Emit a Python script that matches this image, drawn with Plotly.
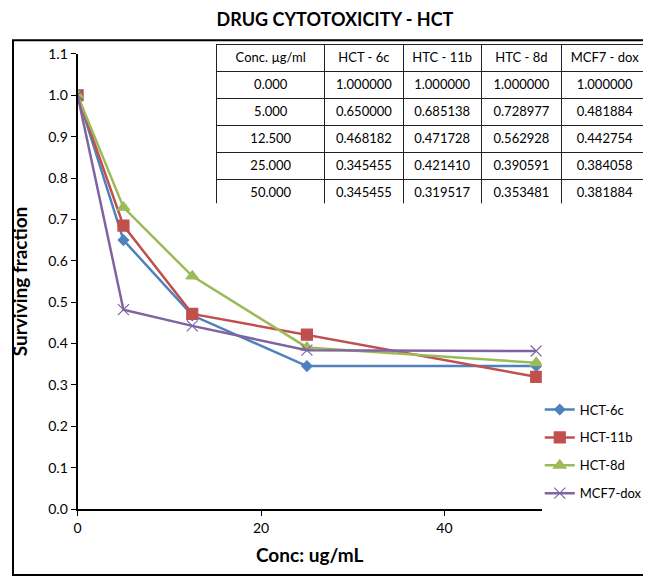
import plotly.graph_objects as go

# concentration (ug/mL) and surviving fraction per compound
conc = [0, 5, 12.5, 25, 50]
hct_6c = [1.000000, 0.650000, 0.468182, 0.345455, 0.345455]
hct_11b = [1.000000, 0.685138, 0.471728, 0.421410, 0.319517]
hct_8d = [1.000000, 0.728977, 0.562928, 0.390591, 0.353481]
mcf7_dox = [1.000000, 0.481884, 0.442754, 0.384058, 0.381884]

series_names = ["HCT-6c", "HCT-11b", "HCT-8d", "MCF7-dox"]
table_header = ["Conc. \u00b5g/ml", "HCT - 6c", "HTC - 11b", "HTC - 8d", "MCF7 - dox"]
y_ticks = [0.0, 0.1, 0.2, 0.3, 0.4, 0.5, 0.6, 0.7, 0.8, 0.9, 1.0, 1.1]
x_ticks = [0, 20, 40]

W, H = 651, 577
FONT = "Lato"

colors = ["#4F81BD", "#C0504D", "#9BBB59", "#8064A2"]
symbols = ["diamond", "square", "triangle-up", "x-thin"]
sizes = [8, 11, 11, 11]

fig = go.Figure()

for i, (name, vals) in enumerate(zip(series_names, [hct_6c, hct_11b, hct_8d, mcf7_dox])):
    col = colors[i]
    fig.add_trace(go.Scatter(
        x=conc, y=vals, mode="lines+markers", name=name, legendgroup=f"g{i}",
        line=dict(color=col, width=2.5),
        marker=dict(symbol=symbols[i], size=sizes[i], color=col,
                    line=dict(color=col, width=1.2)),
    ))

# keep header words on one line
header_cells = [h.replace(" ", "\u00a0") for h in table_header]

# data table in the top right corner
fig.add_trace(go.Table(
    domain=dict(x=[206 / W, 640 / W], y=[1 - 192 / H, 1 - 28 / H]),
    columnwidth=[109, 79, 79, 81, 87],
    header=dict(values=header_cells, align="center", height=27,
                fill_color="white", line=dict(color="#222222", width=1),
                font=dict(family=FONT, size=13, color="black")),
    cells=dict(values=[[f"{c:.3f}" for c in conc]] +
                      [[f"{v:.6f}" for v in s] for s in [hct_6c, hct_11b, hct_8d, mcf7_dox]],
               align="center", height=27,
               fill_color="white", line=dict(color="#222222", width=1),
               font=dict(family=FONT, size=13, color="black")),
))

fig.update_layout(
    width=W, height=H,
    margin=dict(l=0, r=0, t=0, b=0),
    paper_bgcolor="white", plot_bgcolor="white",
    font=dict(family=FONT, size=14, color="black"),
    title=dict(text="<b>DRUG CYTOTOXICITY - HCT</b>", x=327 / W, xanchor="center",
               y=1 - 12 / H, yanchor="middle", font=dict(family=FONT, size=18)),
    xaxis=dict(domain=[66 / W, 533 / W], range=[0, 50.6], tickvals=x_ticks,
               showgrid=False, zeroline=False, showline=True, linecolor="black", linewidth=2,
               ticks="outside", ticklen=5, tickcolor="black",
               title=dict(text="<b>Conc: ug/mL</b>", font=dict(size=19), standoff=14)),
    yaxis=dict(domain=[1 - 507 / H, 1 - 38 / H], range=[0, 1.1], tickvals=y_ticks,
               tickformat=".1f", showgrid=False, zeroline=False, showline=True,
               linecolor="black", linewidth=2, ticks="outside", ticklen=5, tickcolor="black",
               title=dict(text="<b>Surviving fraction</b>", font=dict(size=19), standoff=18)),
    legend=dict(x=531 / W, y=1 - 389 / H, xanchor="left", yanchor="top",
                bgcolor="rgba(0,0,0,0)", font=dict(size=13), itemwidth=30,
                tracegroupgap=8),
    shapes=[dict(type="rect", xref="paper", yref="paper",
                 x0=1 / W, x1=647 / W, y0=1 - 575 / H, y1=1 - 24 / H,
                 line=dict(color="black", width=2))],
)

fig.write_html("out.html")
